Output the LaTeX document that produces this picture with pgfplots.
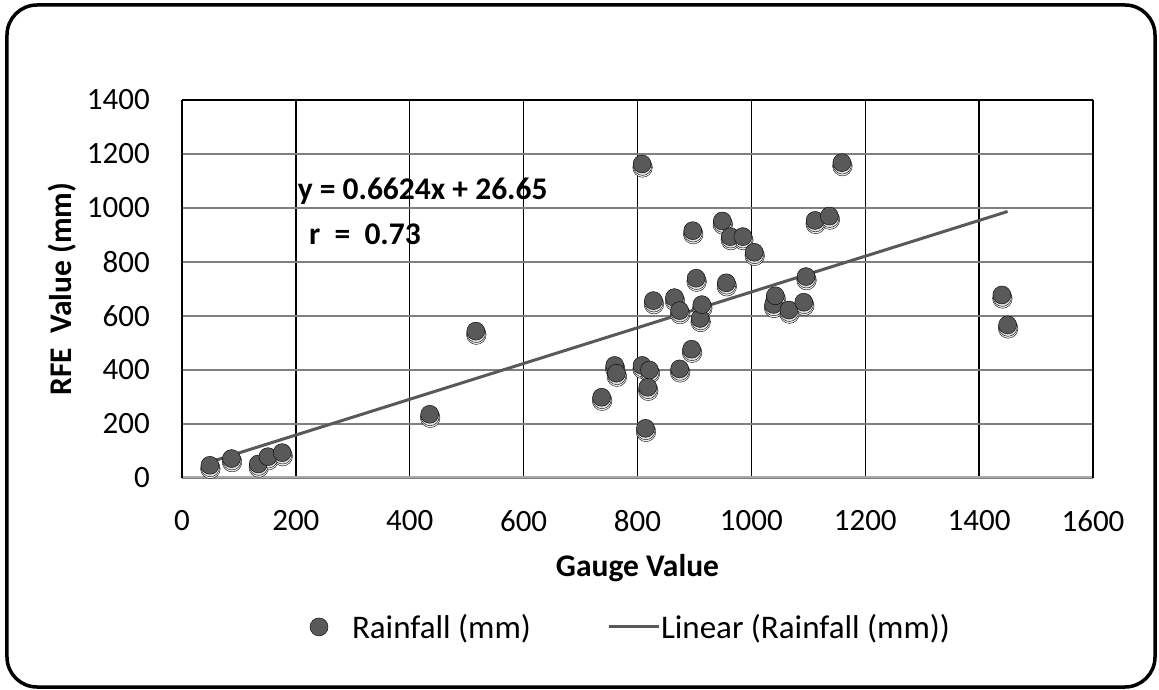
\documentclass[border=0pt]{standalone}
\usepackage{fontspec}
\setmainfont{Carlito}
\usepackage{pgfplots}
\usepackage{pgfplotstable}
\pgfplotsset{compat=1.18}

\definecolor{dotgray}{RGB}{89,89,89}
\definecolor{gridgray}{RGB}{128,128,128}
\definecolor{basegray}{RGB}{170,170,170}

% gauge value vs RFE value (mm)
\pgfplotstableread{
gauge rfe
49 47
87 72
134 52
151 79
176 94
435 236
516 544
737 299
760 417
763 388
808 1163
808 417
814 184
818 336
821 400
828 657
865 668
874 620
874 404
895 477
897 916
903 740
910 591
913 642
949 952
956 723
963 894
985 894
1005 836
1039 643
1042 675
1066 622
1092 651
1096 746
1112 954
1137 970
1159 1168
1440 678
1450 567
}\rainfall

% end points of the fitted line y = 0.6624x + 26.65
\pgfplotstableread{
gauge rfe
49 59.1
1450 987.1
}\trend

\begin{document}
\begin{tikzpicture}[x=1pt,y=1pt]
\path (-182,-212) rectangle (977,478);
\draw[line width=3.5pt, rounded corners=30pt] (-175,-209) rectangle (973,473);
\begin{axis}[
  at={(0pt,0pt)}, anchor=south west,
  scale only axis, width=911pt, height=378pt,
  xmin=0, xmax=1600, ymin=0, ymax=1400,
  xtick distance=200, ytick distance=200,
  scaled ticks=false,
  /pgf/number format/1000 sep={},
  /pgf/number format/assume math mode=true,
  major tick length=0pt,
  tick style={draw=none},
  axis line style={draw=none},
  xmajorgrids, ymajorgrids,
  major x grid style={black, line width=1.4pt},
  major y grid style={gridgray, line width=1.4pt},
  tick label style={font=\fontsize{31}{37}\selectfont, inner sep=0pt},
  xticklabel style={anchor=north, yshift=-32pt},
  yticklabel style={anchor=east, xshift=-32pt},
  xlabel={Gauge Value},
  ylabel={RFE\ \ Value (mm)},
  every axis x label/.style={at={(rel axis cs:0.5,0)}, yshift=-90pt, anchor=center,
    font=\bfseries\fontsize{31.5}{37}\selectfont},
  every axis y label/.style={at={(rel axis cs:0,0.5)}, xshift=-120pt, rotate=90, anchor=center,
    font=\bfseries\fontsize{31.5}{37}\selectfont},
  legend columns=2,
  legend cell align=left,
  legend style={at={(0.4918,-0.394)}, anchor=center, draw=none, fill=none,
    inner sep=0pt, column sep=0pt,
    nodes={inner sep=0pt},
    font=\fontsize{33}{39}\selectfont},
]
% soft drop shadow under the dots
\addplot[only marks, mark=*, mark size=9.8pt, forget plot,
  mark options={draw=none, fill=black!5, xshift=0.5pt, yshift=-3.5pt}]
  table[x=gauge, y=rfe] {\rainfall};
\addplot[only marks, mark=*, mark size=9.2pt, forget plot,
  mark options={draw=none, fill=black!11, xshift=0.4pt, yshift=-2.2pt}]
  table[x=gauge, y=rfe] {\rainfall};
\addplot[only marks, mark=*, mark size=9pt,
  mark options={draw=none, fill=dotgray},
  legend image code/.code={
    \path[draw=none] (0pt,0pt) -- (42pt,0pt);
    \draw[mark repeat=1] plot coordinates {(9pt,0pt)};
  }]
  table[x=gauge, y=rfe] {\rainfall};
\addlegendentry{Rainfall (mm)}
\addplot[dotgray, line width=3pt, no marks,
  legend image code/.code={
    \path[draw=none] (-78pt,0pt) -- (52pt,0pt);
    \draw[dotgray, line width=3pt] (0pt,0pt) -- (50pt,0pt);
  }]
  table[x=gauge, y=rfe] {\trend};
\addlegendentry{Linear (Rainfall (mm))}
% plot area frame
\draw[basegray, line width=3pt] (rel axis cs:0,0) -- (rel axis cs:1,0);
\draw[black, line width=2pt] (rel axis cs:0,1) -- (rel axis cs:1,1) -- (rel axis cs:1,0);
\draw[black, line width=3pt] (rel axis cs:0,0) -- (rel axis cs:0,1);
\node[anchor=base west, inner sep=0pt, font=\bfseries\fontsize{31.5}{37}\selectfont]
  at (axis cs:203,1033) {y = 0.6624x + 26.65};
\node[anchor=base west, inner sep=0pt, font=\bfseries\fontsize{31.5}{37}\selectfont]
  at (axis cs:223,863) {r\ \ =\ \ 0.73};
\end{axis}
\end{tikzpicture}
\end{document}
